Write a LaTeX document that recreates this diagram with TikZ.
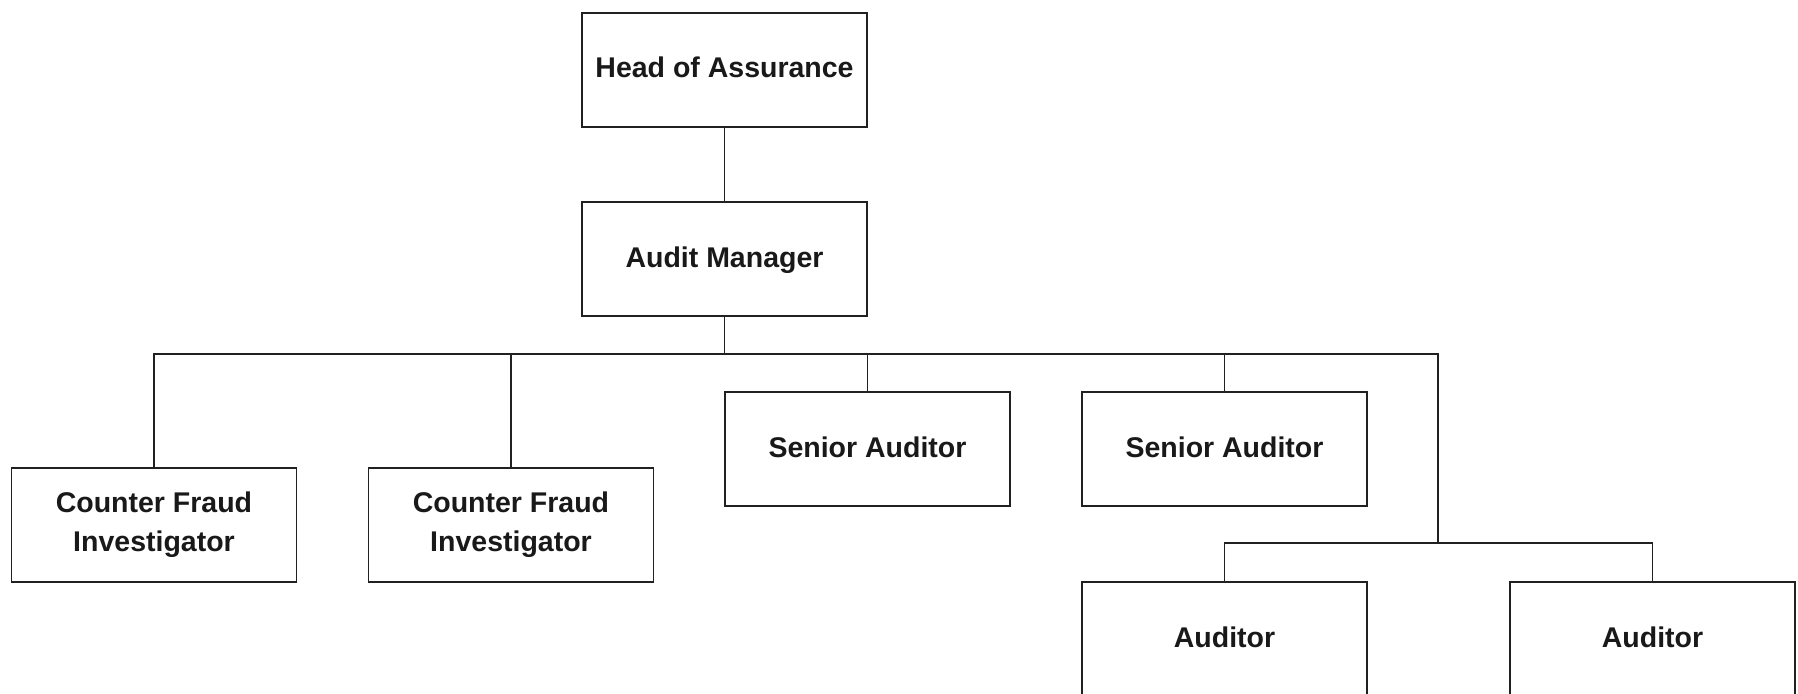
\documentclass[tikz,border=0pt]{standalone}
\usepackage{fontspec}
\setmainfont{Liberation Sans}
\begin{document}
\begin{tikzpicture}[x=1pt,y=1pt,
  line/.style={draw=black!87, line width=1.7pt},
  rolebase/.style={line, rectangle, minimum width=285pt, minimum height=114pt, inner sep=0pt,
    align=center, font=\fontsize{28.5}{39}\selectfont\bfseries, text=black!90},
  role/.style={rolebase, text height=21pt, text depth=5pt},
  role2/.style={rolebase}]
\useasboundingbox[fill=white] (0,0) rectangle (1798,-693);
\node[role] (head) at (724.5,-69.7) {Head of Assurance};
\node[role] (am) at (724.5,-259) {Audit Manager};
\node[role2] (cf1) at (154,-525) {Counter Fraud\\Investigator};
\node[role2] (cf2) at (511,-525) {Counter Fraud\\Investigator};
\node[role] (sa1) at (867.5,-449) {Senior Auditor};
\node[role] (sa2) at (1224.5,-449) {Senior Auditor};
\node[role] (au1) at (1224.5,-639) {Auditor};
\node[role] (au2) at (1652.5,-639) {Auditor};
\coordinate (jr) at (1438,-354);
\coordinate (j2) at (1438,-543);
\draw[line] (head.south) -- (am.north);
\draw[line] (am.south) -- (am.south |- jr);
\draw[line] (cf1.north) |- (jr) -- (j2);
\draw[line] (cf2.north) -- (cf2.north |- jr);
\draw[line] (sa1.north) -- (sa1.north |- jr);
\draw[line] (sa2.north) -- (sa2.north |- jr);
\draw[line] (au1.north) |- (j2) -| (au2.north);
\end{tikzpicture}
\end{document}
